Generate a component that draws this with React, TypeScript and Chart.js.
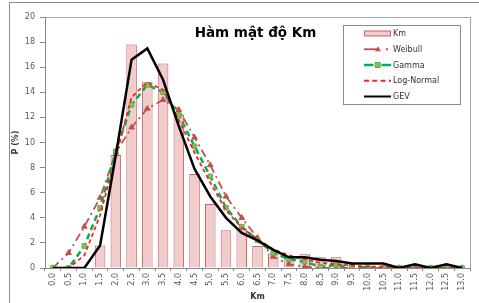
import React, { useEffect, useRef } from 'react';
import { Chart, registerables } from 'chart.js';

Chart.register(...registerables);

const categories = ['0.0','0.5','1.0','1.5','2.0','2.5','3.0','3.5','4.0','4.5','5.0','5.5','6.0','6.5','7.0','7.5','8.0','8.5','9.0','9.5','10.0','10.5','11.0','11.5','12.0','12.5','13.0'];
const kmValues = [0,0,0,1.8,9.0,17.8,14.8,16.3,12.2,7.5,5.1,3.0,3.1,1.75,1.15,0.8,1.1,0.85,0.85,0,0.15,0,0.2,0,0.2,0,0];
const weibullValues = [0,1.2,3.3,5.6,9.2,11.2,12.7,13.4,12.6,10.4,8.2,5.7,4.0,2.4,0.9,0.3,0.1,0,0,0,0,0,0,0,0,0,0];
const gammaValues = [0,0,1.75,4.8,9.3,13.0,14.6,14.0,12.2,9.7,7.3,4.8,3.3,2.2,1.2,0.7,0.5,0.1,0.25,0.1,0.05,0,0,0,0,0,0];
const logNormalValues = [0,0,1.0,4.2,8.9,13.6,14.8,14.2,11.8,9.2,6.8,4.6,3.2,2.3,1.5,1.0,0.7,0.4,0.3,0.2,0.1,0.1,0.05,0.05,0,0,0];
const gevValues = [0,0,0,1.8,9.0,16.6,17.5,15.0,11.3,7.9,5.7,4.0,2.8,2.2,1.45,0.85,0.85,0.65,0.55,0.35,0.35,0.35,0,0.3,0,0.3,0];

const chartTitle = 'Hàm mật độ Km';
const xTitle = 'Km';
const yTitle = 'P (%)';
const seriesNames = ['Km', 'Weibull', 'Gamma', 'Log-Normal', 'GEV'];

const FONT = '"DejaVu Sans", Verdana, sans-serif';
const BAR_FILL = '#f0cccc';
const BAR_BORDER = '#c96262';
const WEIBULL_C = '#c0504d';
const GAMMA_C = '#00b050';
const GAMMA_PT = '#8fbc5a';
const LOGN_C = '#ff2020';
const GEV_C = '#000000';

const decorPlugin = {
  id: 'decor',
  beforeDraw(chart: any) {
    const { ctx, chartArea: a } = chart;
    ctx.save();
    ctx.fillStyle = '#ffffff';
    ctx.fillRect(0, 0, chart.width, chart.height);
    ctx.strokeStyle = '#8c8c8c';
    ctx.lineWidth = 1;
    ctx.strokeRect(9.5, 2.5, chart.width + 10, chart.height + 10);
    ctx.strokeStyle = '#a6a6a6';
    ctx.strokeRect(Math.round(a.left) + 0.5, Math.round(a.top) + 0.5, a.right - a.left, a.bottom - a.top);
    ctx.restore();
  },
  afterDraw(chart: any) {
    const { ctx } = chart;
    ctx.save();
    ctx.fillStyle = '#000';
    ctx.font = `bold 13.5px ${FONT}`;
    ctx.textAlign = 'center';
    ctx.textBaseline = 'middle';
    ctx.fillText(chartTitle, 255.5, 33.5);

    const bx = 343.5, by = 25.5, bw = 117, bh = 79;
    ctx.fillStyle = '#fff';
    ctx.fillRect(bx, by, bw, bh);
    ctx.strokeStyle = '#8c8c8c';
    ctx.lineWidth = 1;
    ctx.strokeRect(bx, by, bw, bh);

    const x0 = 364, x1 = 391, tx = 393;
    const rowY = (i: number) => 33.5 + i * 15.75;
    ctx.font = `8px ${FONT}`;
    ctx.textAlign = 'left';
    ctx.textBaseline = 'middle';
    seriesNames.forEach((name, i) => {
      const y = rowY(i);
      ctx.save();
      if (i === 0) {
        ctx.fillStyle = BAR_FILL;
        ctx.fillRect(x0, y - 2.5, x1 - x0, 5);
        ctx.strokeStyle = BAR_BORDER;
        ctx.lineWidth = 1;
        ctx.strokeRect(x0 + 0.5, y - 2.5, x1 - x0 - 1, 5);
      } else if (i === 1) {
        ctx.strokeStyle = WEIBULL_C;
        ctx.lineWidth = 1.8;
        ctx.beginPath(); ctx.moveTo(x0, y); ctx.lineTo(379, y); ctx.stroke();
        ctx.beginPath(); ctx.moveTo(386, y); ctx.lineTo(388, y); ctx.stroke();
        ctx.fillStyle = WEIBULL_C;
        ctx.beginPath(); ctx.moveTo(378, y - 3); ctx.lineTo(381, y + 2); ctx.lineTo(375, y + 2); ctx.closePath(); ctx.fill();
      } else if (i === 2) {
        ctx.strokeStyle = GAMMA_C;
        ctx.lineWidth = 2.5;
        ctx.beginPath(); ctx.moveTo(x0, y); ctx.lineTo(373.5, y); ctx.stroke();
        ctx.beginPath(); ctx.moveTo(381.5, y); ctx.lineTo(x1, y); ctx.stroke();
        ctx.fillStyle = GAMMA_PT;
        ctx.fillRect(375.2, y - 2.5, 5, 5);
        ctx.strokeStyle = '#5fae4a';
        ctx.lineWidth = 1;
        ctx.strokeRect(375.2, y - 2.5, 5, 5);
      } else if (i === 3) {
        ctx.strokeStyle = LOGN_C;
        ctx.lineWidth = 1.8;
        ctx.setLineDash([5, 3.3]);
        ctx.beginPath(); ctx.moveTo(x0, y); ctx.lineTo(x1, y); ctx.stroke();
      } else {
        ctx.strokeStyle = GEV_C;
        ctx.lineWidth = 2;
        ctx.beginPath(); ctx.moveTo(x0, y); ctx.lineTo(x1, y); ctx.stroke();
      }
      ctx.restore();
      ctx.fillStyle = '#333';
      ctx.fillText(name, tx, y + 0.5);
    });
    ctx.restore();
  },
};

export default function App() {
  const ref = useRef<HTMLCanvasElement | null>(null);

  useEffect(() => {
    document.body.style.margin = '0';
    if (!ref.current) return;
    const chart = new Chart(ref.current, {
      type: 'bar',
      data: {
        labels: categories,
        datasets: [
          {
            type: 'bar',
            label: seriesNames[0],
            data: kmValues,
            backgroundColor: BAR_FILL,
            borderColor: BAR_BORDER,
            borderWidth: 1,
            barPercentage: 0.67,
            categoryPercentage: 1.0,
            order: 5,
          } as any,
          {
            type: 'line',
            label: seriesNames[1],
            data: weibullValues,
            borderColor: WEIBULL_C,
            borderWidth: 1.8,
            borderDash: [8, 4, 2, 4],
            tension: 0,
            fill: false,
            pointStyle: 'triangle',
            pointRadius: 3.2,
            pointBackgroundColor: WEIBULL_C,
            pointBorderColor: WEIBULL_C,
            pointBorderWidth: 1,
            order: 4,
          },
          {
            type: 'line',
            label: seriesNames[2],
            data: gammaValues,
            borderColor: GAMMA_C,
            borderWidth: 2.5,
            borderDash: [6, 4],
            tension: 0,
            fill: false,
            pointStyle: 'rect',
            pointRadius: 3.2,
            pointBackgroundColor: GAMMA_PT,
            pointBorderColor: '#5fae4a',
            pointBorderWidth: 1,
            order: 3,
          },
          {
            type: 'line',
            label: seriesNames[3],
            data: logNormalValues,
            borderColor: LOGN_C,
            borderWidth: 1.8,
            borderDash: [4, 3],
            tension: 0,
            fill: false,
            pointRadius: 0,
            order: 2,
          },
          {
            type: 'line',
            label: seriesNames[4],
            data: gevValues,
            borderColor: GEV_C,
            borderWidth: 2.5,
            tension: 0,
            fill: false,
            pointRadius: 0,
            order: 1,
          },
        ],
      },
      options: {
        responsive: false,
        animation: false,
        devicePixelRatio: 1,
        layout: { padding: { left: 0, top: 17, right: 9, bottom: 0 } },
        plugins: {
          legend: { display: false },
          tooltip: { enabled: false },
          title: { display: false },
        },
        scales: {
          x: {
            type: 'category',
            offset: true,
            afterFit: (scale: any) => { scale.height = 35; },
            grid: { display: true, drawOnChartArea: false, drawTicks: true, tickLength: 3, color: '#888', offset: true },
            border: { display: true, color: '#888' },
            ticks: {
              autoSkip: false,
              maxRotation: 90,
              minRotation: 90,
              padding: 2,
              color: '#595959',
              font: { family: FONT, size: 8 },
            },
            title: {
              display: true,
              text: xTitle,
              color: '#333',
              font: { family: FONT, size: 8, weight: 'bold' },
              padding: { top: 0, bottom: 1.7 },
            },
          },
          y: {
            min: 0,
            max: 20,
            afterFit: (scale: any) => { scale.width = 45; },
            grid: { display: true, drawOnChartArea: false, drawTicks: true, tickLength: 5, color: '#888' },
            border: { display: true, color: '#888' },
            ticks: {
              stepSize: 2,
              padding: 5,
              color: '#595959',
              font: { family: FONT, size: 8 },
            },
            title: {
              display: true,
              text: yTitle,
              color: '#333',
              font: { family: FONT, size: 8, weight: 'bold' },
              padding: { top: 11.5, bottom: 0 },
            },
          },
        },
      } as any,
      plugins: [decorPlugin],
    });
    return () => chart.destroy();
  }, []);

  return (
    <div style={{ width: 479, height: 303 }}>
      <canvas ref={ref} width={479} height={303} style={{ display: 'block', width: 479, height: 303 }} />
    </div>
  );
}
